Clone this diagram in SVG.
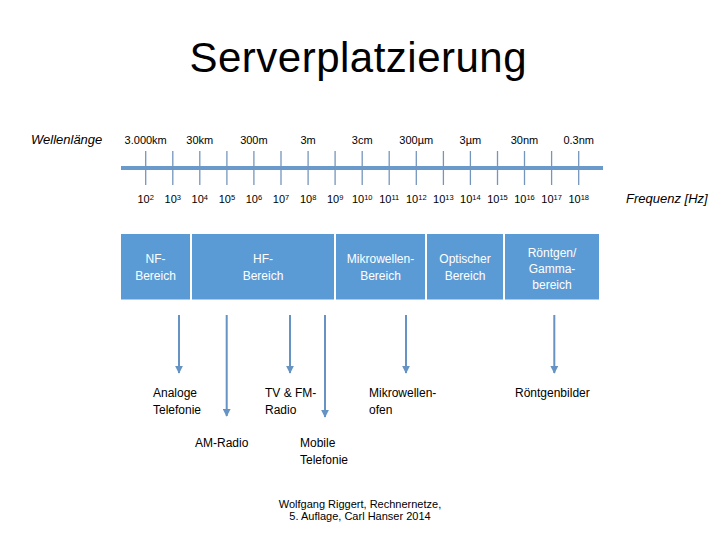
<svg xmlns="http://www.w3.org/2000/svg" width="720" height="540" viewBox="0 0 720 540">
<defs>
<style>
text{font-family:"Liberation Sans",Arial,sans-serif;fill:#000}
.title{font-size:42px}
.axl{font-size:11px;text-anchor:middle}
.sup{font-size:7.5px}
.it{font-style:italic;font-size:13px}
.box{fill:#5b9bd5}
.bt{fill:#fff;font-size:12px;text-anchor:middle}
.lbl{font-size:12px}
.cite{font-size:11px;text-anchor:middle}
.tick{stroke:#7496bd;stroke-width:1.3}
.arr{stroke:#6593c3;stroke-width:2;fill:none;marker-end:url(#ah)}
</style>
<marker id="ah" viewBox="0 0 10 10" refX="9" refY="5" markerWidth="4" markerHeight="4" orient="auto" markerUnits="strokeWidth">
<path d="M0,0 L10,5 L0,10 z" fill="#6593c3"/>
</marker>
</defs>
<rect width="720" height="540" fill="#fff"/>
<text class="title" x="358" y="72" text-anchor="middle" textLength="337" lengthAdjust="spacing">Serverplatzierung</text>
<g id="axis">
<text class="it" x="31" y="144">Wellenlänge</text>
<text class="it" x="626" y="203" font-size="12">Frequenz [Hz]</text>
<line x1="121" y1="168" x2="603" y2="168" stroke="#6a9acb" stroke-width="4"/>
<g class="tick">
<line x1="145.7" y1="151" x2="145.7" y2="185"/>
<line x1="172.8" y1="151" x2="172.8" y2="185"/>
<line x1="199.8" y1="151" x2="199.8" y2="185"/>
<line x1="226.9" y1="151" x2="226.9" y2="185"/>
<line x1="253.9" y1="151" x2="253.9" y2="185"/>
<line x1="281" y1="151" x2="281" y2="185"/>
<line x1="308.1" y1="151" x2="308.1" y2="185"/>
<line x1="335.1" y1="151" x2="335.1" y2="185"/>
<line x1="362.2" y1="151" x2="362.2" y2="185"/>
<line x1="389.2" y1="151" x2="389.2" y2="185"/>
<line x1="416.3" y1="151" x2="416.3" y2="185"/>
<line x1="443.4" y1="151" x2="443.4" y2="185"/>
<line x1="470.4" y1="151" x2="470.4" y2="185"/>
<line x1="497.5" y1="151" x2="497.5" y2="185"/>
<line x1="524.5" y1="151" x2="524.5" y2="185"/>
<line x1="551.6" y1="151" x2="551.6" y2="185"/>
<line x1="578.7" y1="151" x2="578.7" y2="185"/>
</g>
<text class="axl" x="145.7" y="144">3.000km</text>
<text class="axl" x="199.8" y="144">30km</text>
<text class="axl" x="253.9" y="144">300m</text>
<text class="axl" x="308.1" y="144">3m</text>
<text class="axl" x="362.2" y="144">3cm</text>
<text class="axl" x="416.3" y="144">300µm</text>
<text class="axl" x="470.4" y="144">3µm</text>
<text class="axl" x="524.5" y="144">30nm</text>
<text class="axl" x="578.7" y="144">0.3nm</text>
<text class="axl" x="145.7" y="203">10<tspan class="sup" dy="-3.5">2</tspan></text>
<text class="axl" x="172.8" y="203">10<tspan class="sup" dy="-3.5">3</tspan></text>
<text class="axl" x="199.8" y="203">10<tspan class="sup" dy="-3.5">4</tspan></text>
<text class="axl" x="226.9" y="203">10<tspan class="sup" dy="-3.5">5</tspan></text>
<text class="axl" x="253.9" y="203">10<tspan class="sup" dy="-3.5">6</tspan></text>
<text class="axl" x="281" y="203">10<tspan class="sup" dy="-3.5">7</tspan></text>
<text class="axl" x="308.1" y="203">10<tspan class="sup" dy="-3.5">8</tspan></text>
<text class="axl" x="335.1" y="203">10<tspan class="sup" dy="-3.5">9</tspan></text>
<text class="axl" x="362.2" y="203">10<tspan class="sup" dy="-3.5">10</tspan></text>
<text class="axl" x="389.2" y="203">10<tspan class="sup" dy="-3.5">11</tspan></text>
<text class="axl" x="416.3" y="203">10<tspan class="sup" dy="-3.5">12</tspan></text>
<text class="axl" x="443.4" y="203">10<tspan class="sup" dy="-3.5">13</tspan></text>
<text class="axl" x="470.4" y="203">10<tspan class="sup" dy="-3.5">14</tspan></text>
<text class="axl" x="497.5" y="203">10<tspan class="sup" dy="-3.5">15</tspan></text>
<text class="axl" x="524.5" y="203">10<tspan class="sup" dy="-3.5">16</tspan></text>
<text class="axl" x="551.6" y="203">10<tspan class="sup" dy="-3.5">17</tspan></text>
<text class="axl" x="578.7" y="203">10<tspan class="sup" dy="-3.5">18</tspan></text>
</g>
<g id="nf">
<rect class="box" x="121" y="234" width="69" height="65.5"/>
<text class="bt" x="155.5" y="263">NF-</text>
<text class="bt" x="155.5" y="280">Bereich</text>
</g>
<g id="hf">
<rect class="box" x="192" y="234" width="142" height="65.5"/>
<text class="bt" x="263" y="263">HF-</text>
<text class="bt" x="263" y="280">Bereich</text>
</g>
<g id="mw">
<rect class="box" x="336" y="234" width="89" height="65.5"/>
<text class="bt" x="380.5" y="263">Mikrowellen-</text>
<text class="bt" x="380.5" y="280">Bereich</text>
</g>
<g id="opt">
<rect class="box" x="427" y="234" width="76" height="65.5"/>
<text class="bt" x="465" y="263">Optischer</text>
<text class="bt" x="465" y="280">Bereich</text>
</g>
<g id="xray">
<rect class="box" x="505" y="234" width="94" height="65.5"/>
<text class="bt" x="552" y="257">Röntgen/</text>
<text class="bt" x="552" y="273">Gamma-</text>
<text class="bt" x="552" y="289">bereich</text>
</g>
<g id="connectors">
<line class="arr" x1="179" y1="315" x2="179" y2="373"/>
<line class="arr" x1="226.7" y1="315" x2="226.7" y2="416"/>
<line class="arr" x1="290" y1="315" x2="290" y2="373"/>
<line class="arr" x1="325" y1="315" x2="325" y2="417"/>
<line class="arr" x1="406" y1="315" x2="406" y2="373"/>
<line class="arr" x1="554.3" y1="315" x2="554.3" y2="373"/>
</g>
<g id="analog"><text class="lbl" x="153" y="397">Analoge</text><text class="lbl" x="153" y="414">Telefonie</text></g>
<g id="am"><text class="lbl" x="195" y="447">AM-Radio</text></g>
<g id="tvfm"><text class="lbl" x="265" y="397">TV &amp; FM-</text><text class="lbl" x="265" y="414">Radio</text></g>
<g id="mobile"><text class="lbl" x="300" y="447">Mobile</text><text class="lbl" x="300" y="464">Telefonie</text></g>
<g id="oven"><text class="lbl" x="369" y="397">Mikrowellen-</text><text class="lbl" x="369" y="414">ofen</text></g>
<g id="xr"><text class="lbl" x="515" y="397">Röntgenbilder</text></g>
<g id="cite">
<text class="cite" x="360" y="508">Wolfgang Riggert, Rechnernetze,</text>
<text class="cite" x="360" y="520">5. Auflage, Carl Hanser 2014</text>
</g>
</svg>
